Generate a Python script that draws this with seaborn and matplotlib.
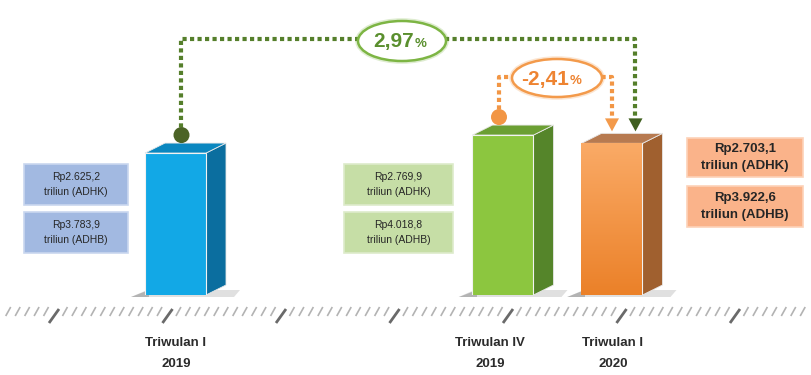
import numpy as np
import pandas as pd
import matplotlib.pyplot as plt
import seaborn as sns
from matplotlib.patches import Polygon, Circle, Ellipse, Rectangle
from matplotlib.collections import LineCollection
from matplotlib.colors import LinearSegmentedColormap

# --- data (PDB, triliun rupiah) ---
periods = ["Triwulan I\n2019", "Triwulan IV\n2019", "Triwulan I\n2020"]
gdp_adhk = [2625.2, 2769.9, 2703.1]   # harga konstan
gdp_adhb = [3783.9, 4018.8, 3922.6]   # harga berlaku


def rp(v):
    s = f"{v:,.1f}".replace(",", "X").replace(".", ",").replace("X", ".")
    return "Rp" + s


def growth(a, b):
    return f"{(b / a - 1) * 100:.2f}".replace(".", ",")


growth_yoy = growth(gdp_adhk[0], gdp_adhk[2])
growth_qtq = growth(gdp_adhk[1], gdp_adhk[2])

# --- layout (pixels, 812x375 canvas) ---
W, H = 812, 375
BASE_PX = 295
Y_BASE, Y_PER_PX = 1484, 8.04
bar_x = [175.5, 503, 612]
bar_w = 61
DX, DY = 20, 10
front = ["#12A8E6", "#8CC63F", "#F39A4B"]
side = ["#0B6E9F", "#55852A", "#A0602F"]
topc = ["#0A87C0", "#6B9F33", "#B77A50"]
box_face = ["#A2B9E1", "#C6DEA6", "#FAB38A"]
box_edge = ["#C9D7EF", "#DDEBCB", "#FDD2B8"]
label_x = [176, 490, 613]

sns.set_theme(style="white")
plt.rcParams["font.family"] = ["Liberation Sans", "DejaVu Sans"]

fig = plt.figure(figsize=(W / 100, H / 100), dpi=100)
deco = fig.add_axes([0, 0, 1, 1], zorder=0)
deco.set_xlim(0, W)
deco.set_ylim(H, 0)
deco.axis("off")

ax = fig.add_axes([0, (H - BASE_PX) / H, 1, BASE_PX / H], zorder=1)
df = pd.DataFrame({"pos": bar_x, "adhk": gdp_adhk, "period": periods})
sns.barplot(data=df, x="pos", y="adhk", hue="period",
            palette=dict(zip(periods, front)), native_scale=True,
            width=bar_w / np.diff(sorted(bar_x)).min(), saturation=1,
            errorbar=None, legend=False, edgecolor="#f2f2f2", linewidth=0.8, ax=ax)
ax.set_xlim(0, W)
ax.set_ylim(Y_BASE, Y_BASE + BASE_PX * Y_PER_PX)
ax.axis("off")

bars = sorted(ax.patches, key=lambda p: p.get_x())

# orange bar has a soft vertical gradient
p = bars[2]
grad = LinearSegmentedColormap.from_list("o", ["#EB8129", "#FAAA66"])
im = ax.imshow(np.linspace(0, 1, 100).reshape(-1, 1), cmap=grad, origin="lower",
               aspect="auto", interpolation="bilinear", zorder=2,
               extent=[p.get_x(), p.get_x() + p.get_width(), Y_BASE, p.get_height()])
im.set_clip_path(p)
ax.set_xlim(0, W)
ax.set_ylim(Y_BASE, Y_BASE + BASE_PX * Y_PER_PX)


def to_px(x, y):
    d = ax.transData.transform((x, y))
    return deco.transData.inverted().transform(d)


# 3D faces + shadows from the seaborn bars
tops = []
for i, p in enumerate(bars):
    x0, yt = to_px(p.get_x(), p.get_height())
    x1 = x0 + bar_w
    yb = BASE_PX
    tops.append((x0, x1, yt))
    deco.add_patch(Polygon([(x0 - 14, yb + 2), (x1 + DX + 8, yb + 2),
                            (x1 + DX + 14, yb - 5), (x0 + 2, yb - 5)],
                           closed=True, fc="#9a9a9a", ec="none", alpha=0.3, zorder=1))
    deco.add_patch(Polygon([(x0 - 14, yb + 2), (x0 + 4, yb + 2), (x0 + 4, yb - 5)],
                           closed=True, fc="#606060", ec="none", alpha=0.35, zorder=1))
    deco.add_patch(Polygon([(x1, yb), (x1, yt), (x1 + DX, yt - DY), (x1 + DX, yb - DY)],
                           closed=True, fc=side[i], ec="#e8e8e8", lw=0.6, zorder=2))
    deco.add_patch(Polygon([(x0, yt), (x1, yt), (x1 + DX, yt - DY), (x0 + DX, yt - DY)],
                           closed=True, fc=topc[i], ec="#e8e8e8", lw=0.6, zorder=2))

# axis of slashes
major = [55 + k * 113.5 for k in range(7)]
minor = [55 + j * 113.5 / 12 for j in range(-5, 80)]
minor = [m for m in minor if m < W + 5 and min(abs(m - M) for M in major) > 2]
deco.add_collection(LineCollection([[(m - 2, 316), (m + 3, 307)] for m in minor],
                                   colors="#b3b3b3", linewidths=1.2, zorder=1))
deco.add_collection(LineCollection([[(m - 6, 323), (m + 4, 309)] for m in major],
                                   colors="#6a6a6a", linewidths=2.0, zorder=1))

# period labels
for lx, lab in zip(label_x, periods):
    l1, l2 = lab.split("\n")
    deco.text(lx, 343, l1, ha="center", va="center", fontsize=9.5,
              fontweight="bold", color="#2b2b2b")
    deco.text(lx, 364, l2, ha="center", va="center", fontsize=9.5,
              fontweight="bold", color="#2b2b2b")

# value boxes
box_x = [(24, 128), (344, 453), (687, 803)]
box_y = [[(164, 205), (212, 253)], [(164, 205), (212, 253)], [(138, 177), (186, 227)]]
for i in range(3):
    big = i == 2
    texts = [f"{rp(gdp_adhk[i])}\ntriliun (ADHK)", f"{rp(gdp_adhb[i])}\ntriliun (ADHB)"]
    for (y0, y1), t in zip(box_y[i], texts):
        bx0, bx1 = box_x[i]
        deco.add_patch(Rectangle((bx0, y0), bx1 - bx0, y1 - y0, fc=box_face[i],
                                 ec=box_edge[i], lw=1.2, zorder=2))
        a, b = t.split("\n")
        cy = (y0 + y1) / 2
        gap = 8.5 if big else 7.5
        kw = dict(ha="center", va="center", color="#262626", zorder=3,
                  fontsize=9.5 if big else 7.5, fontweight="bold" if big else "normal")
        deco.text((bx0 + bx1) / 2, cy - gap, a, **kw)
        deco.text((bx0 + bx1) / 2, cy + gap, b, **kw)

# connectors
x0a, x1a, yta = tops[0]
x0b, x1b, ytb = tops[1]
x0c, x1c, ytc = tops[2]
tip = ytc - DY - 2
dot_style = dict(lw=3, ls=(0, (1, 0.8)), dash_capstyle="butt", zorder=3)

g_dot = (bar_x[0] + 6, yta - 18)
g_x = x1c - 7
deco.plot([g_dot[0], g_dot[0], g_x, g_x], [g_dot[1], 39, 39, tip - 12],
          color="#557F2B", **dot_style)
deco.add_patch(Polygon([(g_x - 7, tip - 13), (g_x + 7, tip - 13), (g_x, tip)],
                       closed=True, fc="#3F5F1F", ec="none", zorder=4))
deco.add_patch(Circle(g_dot, 8, fc="#4B6326", ec="none", zorder=4))

o_dot = (bar_x[1] - 4, ytb - 18)
o_x = bar_x[2]
deco.plot([o_dot[0], o_dot[0], o_x, o_x], [o_dot[1], 77, 77, tip - 12],
          color="#F29645", **dot_style)
deco.add_patch(Polygon([(o_x - 7, tip - 13), (o_x + 7, tip - 13), (o_x, tip)],
                       closed=True, fc="#F39A4B", ec="none", zorder=4))
deco.add_patch(Circle(o_dot, 8, fc="#F29645", ec="none", zorder=4))

# growth bubbles
for (cx, cy, w, h), val, ec, tc in [((402, 41, 88, 40), growth_yoy, "#7DB544", "#5A8F2E"),
                                    ((557, 78, 90, 38), growth_qtq, "#F39A4B", "#EE8432")]:
    deco.add_patch(Ellipse((cx, cy), w, h, fc="white", ec=ec, lw=4, alpha=0.25, zorder=5))
    deco.add_patch(Ellipse((cx, cy), w, h, fc="white", ec=ec, lw=1.8, zorder=5))
    deco.text(cx + 12, cy + 1, val, ha="right", va="center", fontsize=15,
              fontweight="bold", color=tc, zorder=6)
    deco.text(cx + 13, cy + 3, "%", ha="left", va="center", fontsize=9.5,
              fontweight="bold", color=tc, zorder=6)

fig.savefig("out.png", dpi=100, facecolor="white")
